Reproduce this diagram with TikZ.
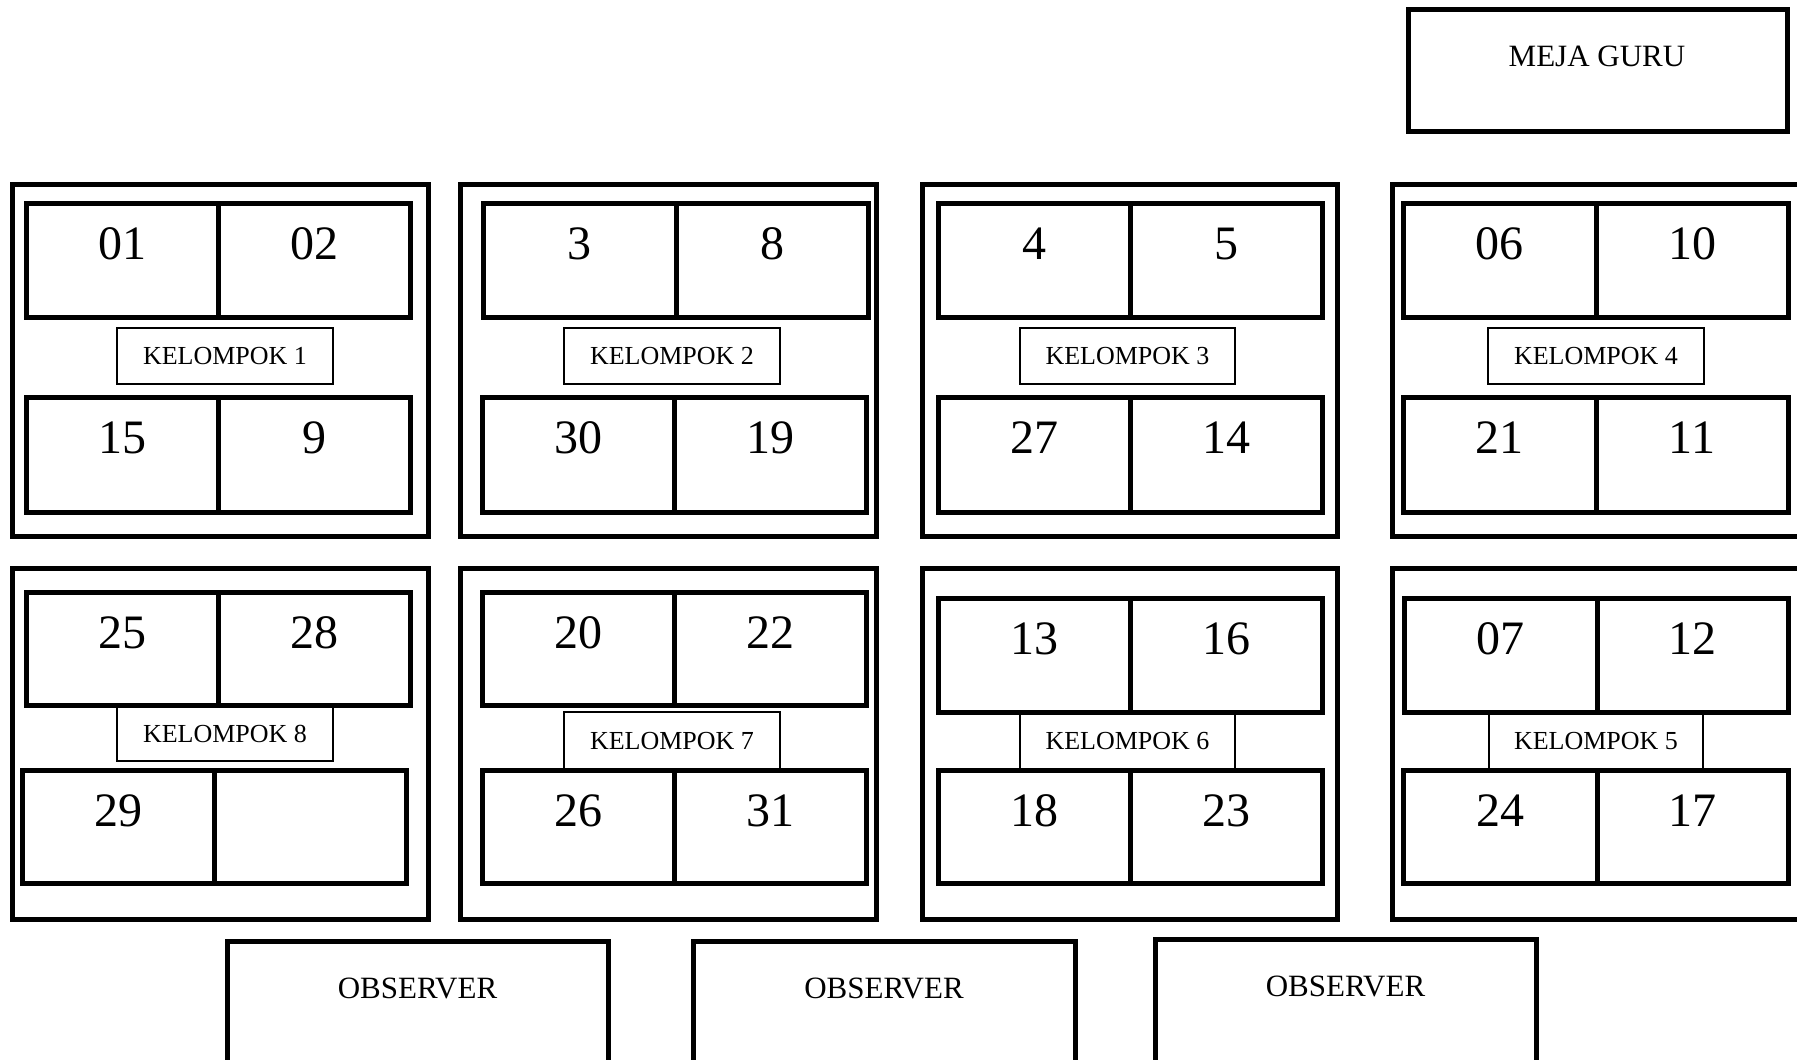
\documentclass[tikz,border=0pt]{standalone}
\usepackage{fontspec}
\setmainfont{Liberation Serif}
\tikzset{
  x=1pt, y=-1pt,
  thickbox/.style={draw=black, line width=5pt, inner sep=0pt, outer sep=0pt, fill=white},
  seat/.style={thickbox},
  grouplabel/.style={draw=black, line width=1.3pt, inner sep=0pt, outer sep=0pt, fill=white, font=\fontsize{26}{28}\selectfont},
  num/.style={inner sep=0pt, font=\fontsize{48}{50}\selectfont, anchor=base},
  bigtext/.style={inner sep=0pt, font=\fontsize{31}{33}\selectfont, anchor=base}
}
% \seatbox{name}{x1}{x2}{y1}{y2}{number}
\newcommand\seatbox[6]{%
  \node[seat, minimum width={#3-#2}, minimum height={#5-#4}] (#1) at ({(#2+#3)/2},{(#4+#5)/2}) {};
  \node[num] (#1t) at ({(#2+#3)/2},{#4+56}) {#6};
}
% \emptyseat{name}{x1}{x2}{y1}{y2}
\newcommand\emptyseat[5]{%
  \node[seat, minimum width={#3-#2}, minimum height={#5-#4}] (#1) at ({(#2+#3)/2},{(#4+#5)/2}) {};
}
% \outerbox{name}{x1}{x2}{y1}{y2}
\newcommand\outerbox[5]{%
  \node[thickbox, minimum width={#3-#2}, minimum height={#5-#4}] (#1) at ({(#2+#3)/2},{(#4+#5)/2}) {};
}
% \klabel{name}{x1}{x2}{y1}{y2}{text}
\newcommand\klabel[6]{%
  \node[grouplabel, minimum width={#3-#2}, minimum height={#5-#4}] (#1) at ({(#2+#3)/2},{(#4+#5)/2}) {#6};
}
\begin{document}
\begin{tikzpicture}
\useasboundingbox (0,0) rectangle (1797,1060);
\fill[white] (0,0) rectangle (1797,1060);

% Meja guru
\node[thickbox, minimum width=379, minimum height=122] (meja) at (1597.5,70) {};
\node[bigtext] (mejat) at (1597,66) {MEJA GURU};

% ---------- Row 1 ----------
% Kelompok 1
\outerbox{g1}{12}{428}{184}{536}
\klabel{k1}{117}{333}{328}{384}{KELOMPOK 1}
\seatbox{s01}{26}{218}{203}{317}{01}
\seatbox{s02}{218}{410}{203}{317}{02}
\seatbox{s15}{26}{218}{397}{512}{15}
\seatbox{s09}{218}{410}{397}{512}{9}

% Kelompok 2
\outerbox{g2}{460}{876}{184}{536}
\klabel{k2}{564}{780}{328}{384}{KELOMPOK 2}
\seatbox{s03}{483}{676}{203}{317}{3}
\seatbox{s08}{676}{868}{203}{317}{8}
\seatbox{s30}{482}{674}{397}{512}{30}
\seatbox{s19}{674}{866}{397}{512}{19}

% Kelompok 3
\outerbox{g3}{922}{1337}{184}{536}
\klabel{k3}{1020}{1235}{328}{384}{KELOMPOK 3}
\seatbox{s04}{938}{1130}{203}{317}{4}
\seatbox{s05}{1130}{1322}{203}{317}{5}
\seatbox{s27}{938}{1130}{397}{512}{27}
\seatbox{s14}{1130}{1322}{397}{512}{14}

% Kelompok 4
\outerbox{g4}{1392}{1809}{184}{536}
\klabel{k4}{1488}{1704}{328}{384}{KELOMPOK 4}
\seatbox{s06}{1403}{1596}{203}{317}{06}
\seatbox{s10}{1596}{1788}{203}{317}{10}
\seatbox{s21}{1403}{1596}{397}{512}{21}
\seatbox{s11}{1596}{1788}{397}{512}{11}

% ---------- Row 2 ----------
% Kelompok 8
\outerbox{g8}{12}{428}{568}{919}
\klabel{k8}{117}{333}{706}{761}{KELOMPOK 8}
\seatbox{s25}{26}{218}{592}{705}{25}
\seatbox{s28}{218}{410}{592}{705}{28}
\seatbox{s29}{22}{214}{770}{883}{29}
\emptyseat{sx}{214}{406}{770}{883}

% Kelompok 7
\outerbox{g7}{460}{876}{568}{919}
\klabel{k7}{564}{780}{712}{770}{KELOMPOK 7}
\seatbox{s20}{482}{674}{592}{705}{20}
\seatbox{s22}{674}{866}{592}{705}{22}
\seatbox{s26}{482}{674}{770}{883}{26}
\seatbox{s31}{674}{866}{770}{883}{31}

% Kelompok 6
\outerbox{g6}{922}{1337}{568}{919}
\klabel{k6}{1020}{1235}{713}{770}{KELOMPOK 6}
\seatbox{s13}{938}{1130}{598}{712}{13}
\seatbox{s16}{1130}{1322}{598}{712}{16}
\seatbox{s18}{938}{1130}{770}{883}{18}
\seatbox{s23}{1130}{1322}{770}{883}{23}

% Kelompok 5
\outerbox{g5}{1392}{1809}{568}{919}
\klabel{k5}{1489}{1703}{713}{770}{KELOMPOK 5}
\seatbox{s07}{1404}{1597}{598}{712}{07}
\seatbox{s12}{1597}{1788}{598}{712}{12}
\seatbox{s24}{1403}{1597}{770}{883}{24}
\seatbox{s17}{1597}{1788}{770}{883}{17}

% ---------- Observers ----------
\node[thickbox, minimum width=381, minimum height=150] (o1) at (417.5,1016) {};
\node[bigtext] (o1t) at (417.5,998) {OBSERVER};
\node[thickbox, minimum width=382, minimum height=150] (o2) at (884,1016) {};
\node[bigtext] (o2t) at (884,998) {OBSERVER};
\node[thickbox, minimum width=381, minimum height=150] (o3) at (1345.5,1014) {};
\node[bigtext] (o3t) at (1345.5,996) {OBSERVER};
\end{tikzpicture}
\end{document}
